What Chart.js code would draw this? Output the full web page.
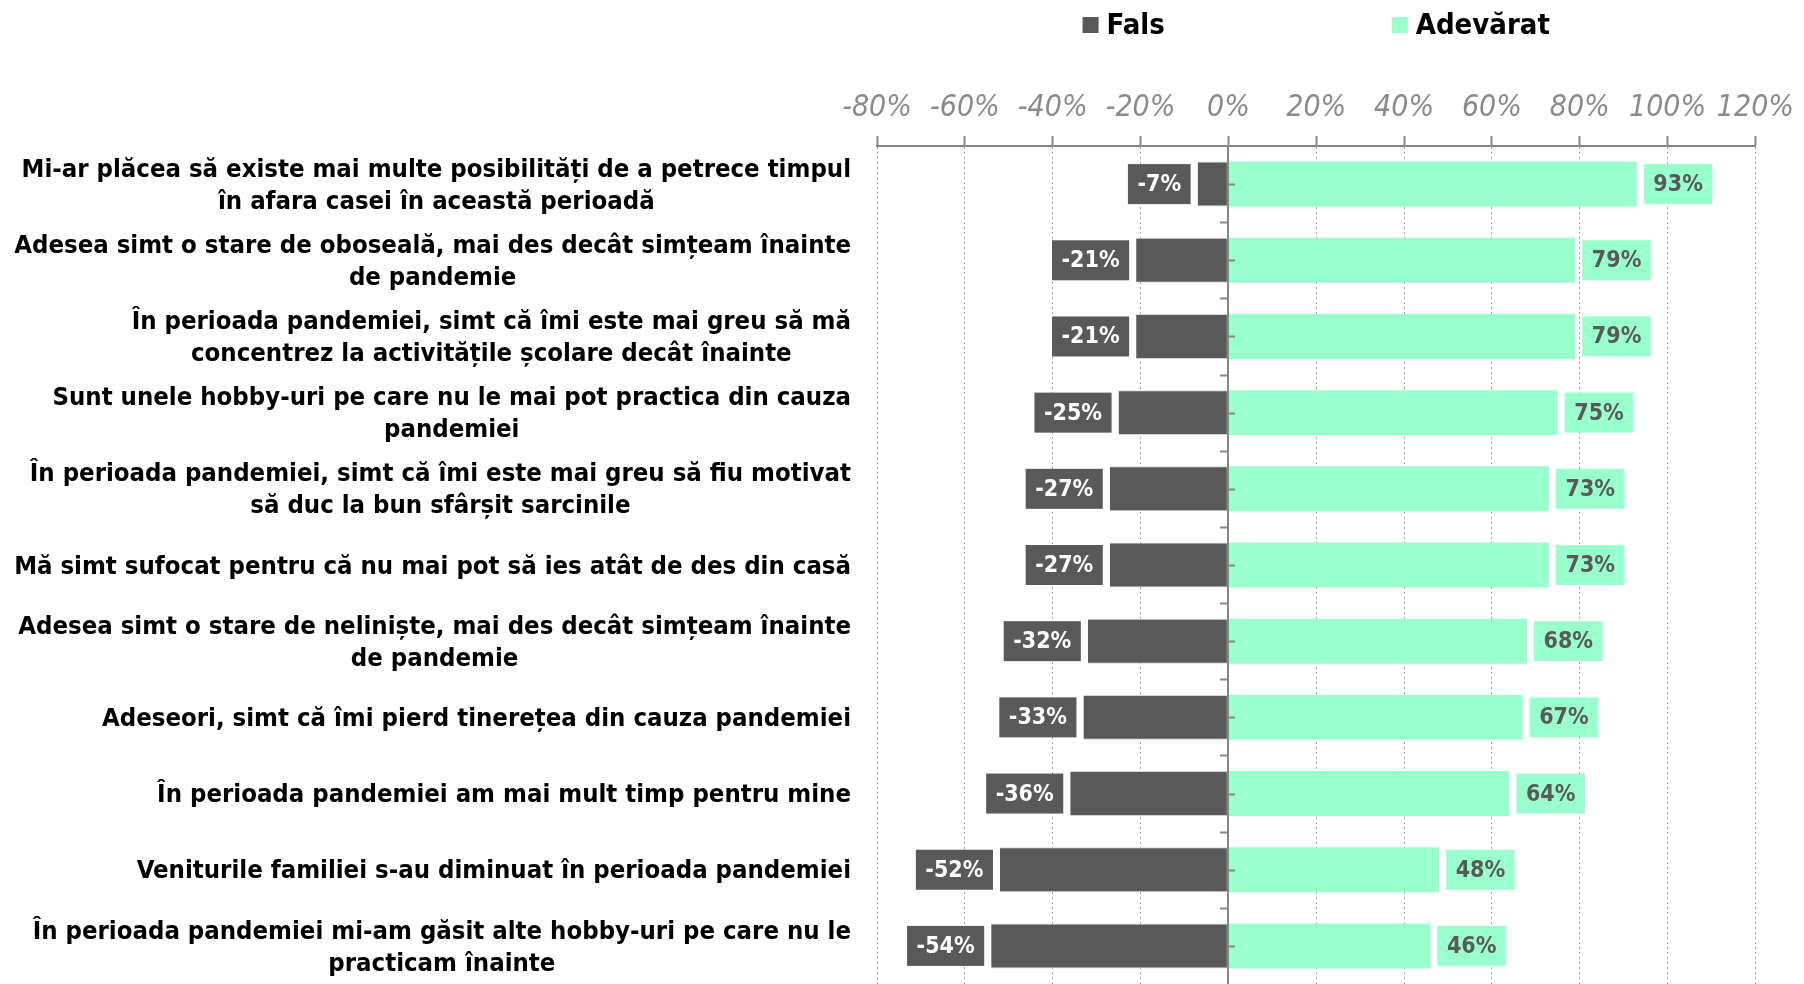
<!DOCTYPE html>
<html>
<head>
<meta charset="utf-8">
<script src="https://cdn.jsdelivr.net/npm/chart.js@4/dist/chart.umd.min.js"></script>
<style>
  html, body { margin: 0; padding: 0; background: #ffffff; }
  #wrap { width: 1804px; height: 984px; overflow: hidden; }
</style>
</head>
<body>
<div id="wrap"><canvas id="c" width="1804" height="984"></canvas></div>
<script>
// ---- Data ----
const categories = [
  ["Mi-ar plăcea să existe mai multe posibilități de a petrece timpul", "în afara casei în această perioadă"],
  ["Adesea simt o stare de oboseală, mai des decât simțeam înainte", "de pandemie"],
  ["În perioada pandemiei, simt că îmi este mai greu să mă", "concentrez la activitățile școlare decât înainte"],
  ["Sunt unele hobby-uri pe care nu le mai pot practica din cauza", "pandemiei"],
  ["În perioada pandemiei, simt că îmi este mai greu să fiu motivat", "să duc la bun sfârșit sarcinile"],
  ["Mă simt sufocat pentru că nu mai pot să ies atât de des din casă"],
  ["Adesea simt o stare de neliniște, mai des decât simțeam înainte", "de pandemie"],
  ["Adeseori, simt că îmi pierd tinerețea din cauza pandemiei"],
  ["În perioada pandemiei am mai mult timp pentru mine"],
  ["Veniturile familiei s-au diminuat în perioada pandemiei"],
  ["În perioada pandemiei mi-am găsit alte hobby-uri pe care nu le", "practicam înainte"]
];
const seriesNames = ["Fals", "Adevărat"];
const falsValues = [-7, -21, -21, -25, -27, -27, -32, -33, -36, -52, -54];
const adevaratValues = [93, 79, 79, 75, 73, 73, 68, 67, 64, 48, 46];
const xTickValues = [-80, -60, -40, -20, 0, 20, 40, 60, 80, 100, 120];

// ---- Styles ----
const FONT = '"DejaVu Sans Condensed", "DejaVu Sans", sans-serif';
const COLOR_FALS = '#595959';
const COLOR_ADEV = '#99FFCC';

const labelsPlugin = {
  id: 'customDraw',
  afterDatasetsDraw(chart) {
    const ctx = chart.ctx;
    const xs = chart.scales.x, ys = chart.scales.y;
    const area = chart.chartArea;
    // zero (category) axis line with its small tick marks
    ctx.save();
    ctx.strokeStyle = '#868686';
    ctx.lineWidth = 2;
    const x0 = Math.round(xs.getPixelForValue(0));
    ctx.beginPath();
    ctx.moveTo(x0, area.top);
    ctx.lineTo(x0, area.bottom);
    for (let i = 0; i < categories.length; i++) {
      const yb = Math.round(ys.getPixelForValue(i + 0.5)) + 0.5;
      if (i < categories.length - 1) { ctx.moveTo(x0 - 8, yb); ctx.lineTo(x0, yb); }
      const yc = Math.round(ys.getPixelForValue(i)) + 0.5;
      ctx.moveTo(x0, yc); ctx.lineTo(x0 + 7, yc);
    }
    ctx.stroke();
    ctx.restore();

    // data labels
    ctx.save();
    ctx.font = 'bold 23px ' + FONT;
    ctx.textBaseline = 'middle';
    ctx.textAlign = 'center';
    chart.data.datasets.forEach((ds, di) => {
      const meta = chart.getDatasetMeta(di);
      meta.data.forEach((bar, i) => {
        const v = ds.data[i];
        const txt = v + '%';
        const w = ctx.measureText(txt).width + 19;
        const h = 40;
        let left;
        if (v < 0) {
          left = bar.x - 7 - w;
          ctx.fillStyle = COLOR_FALS;
        } else {
          left = bar.x + 7;
          ctx.fillStyle = COLOR_ADEV;
        }
        ctx.fillRect(left, bar.y - h / 2, w, h);
        ctx.fillStyle = v < 0 ? '#ffffff' : '#595959';
        ctx.fillText(txt, left + w / 2, bar.y + 1);
      });
    });
    ctx.restore();
  },
  afterDraw(chart) {
    const ctx = chart.ctx;
    const ys = chart.scales.y;
    const area = chart.chartArea;
    // category labels: block right aligned, lines centred
    ctx.save();
    ctx.font = 'bold 25.5px ' + FONT;
    ctx.fillStyle = '#000000';
    ctx.textBaseline = 'middle';
    ctx.textAlign = 'center';
    const right = area.left - 26;
    const lh = 32;
    categories.forEach((lines, i) => {
      const cy = ys.getPixelForValue(i) + 2;
      const maxW = Math.max(...lines.map(l => ctx.measureText(l).width));
      const cx = right - maxW / 2;
      const y0 = cy - (lines.length - 1) * lh / 2;
      lines.forEach((l, k) => ctx.fillText(l, cx, y0 + k * lh));
    });
    ctx.restore();

    // legend
    ctx.save();
    ctx.font = 'bold 29px ' + FONT;
    ctx.textBaseline = 'middle';
    ctx.textAlign = 'left';
    const box = 16, gapBT = 8, gapItems = 227;
    const w1 = ctx.measureText(seriesNames[0]).width;
    const w2 = ctx.measureText(seriesNames[1]).width;
    const total = box + gapBT + w1 + gapItems + box + gapBT + w2;
    let x = (area.left + area.right) / 2 - total / 2;
    const cy = 25;
    const cols = [COLOR_FALS, COLOR_ADEV];
    [w1, w2].forEach((w, k) => {
      ctx.fillStyle = cols[k];
      ctx.fillRect(x, cy - box / 2, box, box);
      ctx.fillStyle = '#000000';
      ctx.fillText(seriesNames[k], x + box + gapBT, cy + 1);
      x += box + gapBT + w + gapItems;
    });
    ctx.restore();
  }
};

new Chart(document.getElementById('c'), {
  type: 'bar',
  data: {
    labels: categories.map(c => c.join(' ')),
    datasets: [
      { label: seriesNames[0], data: falsValues, backgroundColor: COLOR_FALS, borderColor: '#d4d4d4', borderWidth: 1, borderSkipped: 'right' },
      { label: seriesNames[1], data: adevaratValues, backgroundColor: COLOR_ADEV, borderWidth: 0 }
    ]
  },
  options: {
    indexAxis: 'y',
    responsive: false,
    animation: false,
    devicePixelRatio: 1,
    layout: { padding: { left: 877, right: 42, top: 86, bottom: -4 } },
    plugins: { legend: { display: false }, tooltip: { enabled: false } },
    datasets: { bar: { categoryPercentage: 1.0, barPercentage: 0.59 } },
    scales: {
      x: {
        type: 'linear',
        position: 'top',
        stacked: true,
        min: -80, max: 120,
        afterBuildTicks: (scale) => { scale.ticks = xTickValues.map(v => ({ value: v })); },
        afterFit: (scale) => { scale.height = 60; },
        ticks: {
          callback: (v) => v + '%',
          color: '#8a8a8a',
          font: { family: FONT, size: 30, style: 'italic' },
          padding: 10,
          maxRotation: 0
        },
        grid: {
          display: true,
          drawOnChartArea: true,
          drawTicks: true,
          tickLength: 10,
          tickColor: '#868686',
          tickWidth: 2,
          tickBorderDash: [],
          color: '#a0a0a0',
          lineWidth: 1
        },
        border: { display: true, color: '#868686', width: 2, dash: [2, 3] }
      },
      y: {
        stacked: true,
        afterFit: (scale) => { scale.width = 0; },
        ticks: { display: false },
        grid: { display: false },
        border: { display: false }
      }
    }
  },
  plugins: [labelsPlugin]
});
</script>
</body>
</html>
